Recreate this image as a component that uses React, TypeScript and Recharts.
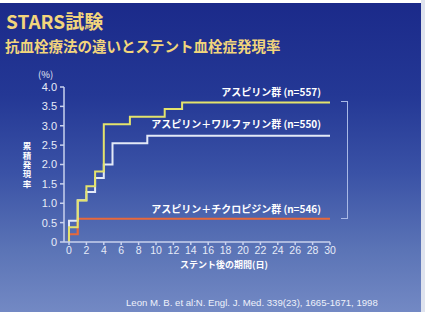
import { LineChart, Line, XAxis, YAxis } from "recharts";

// 日数と累積発現率（%）
const aspirinDays = [0, 0, 1, 2, 3, 4, 7, 11, 13, 30];
const aspirinRate = [0, 0.38, 1.07, 1.44, 1.82, 3.04, 3.23, 3.43, 3.6, 3.6];

const warfarinDays = [0, 0, 1, 2, 3, 4, 5, 9, 30];
const warfarinRate = [0, 0.55, 1.08, 1.29, 1.65, 2.0, 2.55, 2.74, 2.74];

const ticlopidineDays = [0, 0, 1, 30];
const ticlopidineRate = [0, 0.2, 0.6, 0.6];

const xTicks = [0, 2, 4, 6, 8, 10, 12, 14, 16, 18, 20, 22, 24, 26, 28, 30];
const yTicks = [0, 0.5, 1, 1.5, 2, 2.5, 3, 3.5, 4];

const seriesLabels = [
  "アスピリン群 (n=557)",
  "アスピリン＋ワルファリン群 (n=550)",
  "アスピリン＋チクロピジン群 (n=546)",
];

const toPoints = (days: number[], rate: number[]) => days.map((d, i) => ({ day: d, rate: rate[i] }));

const jp = '"Noto Sans CJK JP", "Noto Sans", sans-serif';
const latin = '"Liberation Sans", Arial, sans-serif';
const gold = "#f2d57c";
const axisColor = "#c9d2ee";

export default function App() {
  const aspirin = toPoints(aspirinDays, aspirinRate);
  const warfarin = toPoints(warfarinDays, warfarinRate);
  const ticlopidine = toPoints(ticlopidineDays, ticlopidineRate);

  const label = (text: string, top: number) => (
    <div
      style={{
        position: "absolute", right: 425 - 321, top, fontFamily: jp, fontWeight: 700,
        fontSize: 10, lineHeight: "12px", color: "#ffffff", whiteSpace: "nowrap",
      }}
    >
      {text}
    </div>
  );

  return (
    <div style={{ position: "absolute", left: 0, top: 0, width: 425, height: 312, background: "#ffffff", overflow: "hidden" }}>
      <div
        style={{
          position: "absolute", left: 0, top: 3, width: 421, height: 309,
          background: "linear-gradient(to bottom, #1b2a8a 0%, #243895 30%, #3a52a6 55%, #5b74b6 80%, #7389c4 100%)",
        }}
      />
      <div style={{ position: "absolute", left: 421, top: 0, width: 4, height: 312, background: "#dfe3ee" }} />

      <div style={{ position: "absolute", left: 6, top: 10, fontFamily: jp, fontWeight: 700, fontSize: 19, lineHeight: "22px", color: gold }}>
        STARS試験
      </div>
      <div style={{ position: "absolute", left: 5, top: 37, fontFamily: jp, fontWeight: 700, fontSize: 14.5, lineHeight: "17px", color: gold, whiteSpace: "nowrap" }}>
        抗血栓療法の違いとステント血栓症発現率
      </div>

      <div style={{ position: "absolute", left: 38, top: 69, fontFamily: jp, fontSize: 9.5, lineHeight: "11px", color: "#e6ebf8" }}>
        (%)
      </div>
      <div
        style={{
          position: "absolute", left: 22, top: 142, width: 10, fontFamily: jp, fontWeight: 700, fontSize: 8.5,
          lineHeight: "10px", color: "#ffffff", writingMode: "vertical-rl", textOrientation: "upright", letterSpacing: 0.8,
        }}
      >
        累積発現率
      </div>

      <div style={{ position: "absolute", left: 0, top: 0 }}>
        <LineChart width={425} height={312} margin={{ top: 87, right: 95, bottom: 50, left: 34 }}>
          <XAxis
            type="number"
            dataKey="day"
            domain={[0, 30]}
            ticks={xTicks}
            allowDuplicatedCategory={false}
            padding={{ left: 5, right: 0 }}
            height={20}
            tickSize={3}
            tickMargin={2}
            stroke={axisColor}
            strokeWidth={1.5}
            tick={{ fill: "#e6ebf8", fontSize: 10.5, fontFamily: latin }}
            interval={0}
          />
          <YAxis
            type="number"
            domain={[0, 4]}
            ticks={yTicks}
            width={30}
            tickSize={4}
            tickMargin={3}
            stroke={axisColor}
            strokeWidth={1.5}
            tickFormatter={(v: number) => (v === 0 ? "0" : v.toFixed(1))}
            tick={{ fill: "#e6ebf8", fontSize: 11, fontFamily: latin }}
            interval={0}
          />
          <Line data={ticlopidine} dataKey="rate" type="stepAfter" stroke="#e8683a" strokeWidth={2.2} dot={false} isAnimationActive={false} />
          <Line data={warfarin} dataKey="rate" type="stepAfter" stroke="#e3e9f7" strokeWidth={2} dot={false} isAnimationActive={false} />
          <Line data={aspirin} dataKey="rate" type="stepAfter" stroke="#e4e36c" strokeWidth={2} dot={false} isAnimationActive={false} />
        </LineChart>
      </div>

      {label(seriesLabels[0], 86)}
      {label(seriesLabels[1], 118)}
      {label(seriesLabels[2], 203)}

      <div
        style={{
          position: "absolute", left: 341, top: 101, width: 6, height: 116,
          borderTop: "1.5px solid #a9b9e6", borderRight: "1.5px solid #a9b9e6", borderBottom: "1.5px solid #a9b9e6",
        }}
      />

      <div style={{ position: "absolute", left: 180, top: 259, fontFamily: jp, fontWeight: 700, fontSize: 9, lineHeight: "11px", color: "#ffffff", whiteSpace: "nowrap" }}>
        ステント後の期間(日)
      </div>
      <div style={{ position: "absolute", left: 126, top: 297, fontFamily: latin, fontSize: 9.6, lineHeight: "11px", color: "#eef1fa", whiteSpace: "nowrap" }}>
        Leon M. B. et al:N. Engl. J. Med. 339(23), 1665-1671, 1998
      </div>
    </div>
  );
}
